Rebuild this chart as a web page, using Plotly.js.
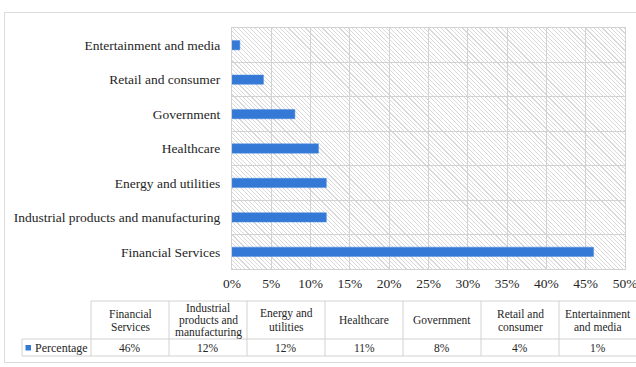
<!DOCTYPE html>
<html>
<head>
<meta charset="utf-8">
<script src="https://cdn.plot.ly/plotly-3.0.1.min.js"></script>
<style>
  html, body { margin:0; padding:0; background:#fff; }
  #wrap { position:relative; width:636px; height:367px; overflow:hidden; background:#fff; }
  #frame { position:absolute; left:4px; top:12px; width:660px; height:351px; border:1px solid #dcdcdc; box-sizing:border-box; }
  #hatch { position:absolute; left:232px; top:28px; width:393px; height:241px;
    background: repeating-linear-gradient(45deg, #d9d9d9 0px, #d9d9d9 0.8px, #ffffff 0.8px, #ffffff 3px); }
  #chart { position:absolute; left:0; top:0; width:636px; height:367px; }
</style>
</head>
<body>
<div id="wrap">
  <div id="frame"></div>
  <div id="hatch"></div>
  <div id="chart"></div>
</div>
<script>
// ---- data ----
const categories = ["Financial Services", "Industrial products and manufacturing", "Energy and utilities", "Healthcare", "Government", "Retail and consumer", "Entertainment and media"];
const tableHeaders = ["Financial<br>Services", "Industrial<br>products and<br>manufacturing", "Energy and<br>utilities", "Healthcare", "Government", "Retail and<br>consumer", "Entertainment<br>and media"];
const percentages = [46, 12, 12, 11, 8, 4, 1];
const seriesName = "Percentage";
const xTickVals = [0, 5, 10, 15, 20, 25, 30, 35, 40, 45, 50];

// ---- layout helpers (pixel -> paper) ----
const W = 636, H = 367;
const M = {l: 232, r: 11, t: 28, b: 98};
const PW = W - M.l - M.r, PH = H - M.t - M.b;
const px = x => (x - M.l) / PW;
const py = y => (H - M.b - y) / PH;

const barColor = "#3479d6";
const lineCol = "#d2d2d2";
const textCol = "#262626";
const font = "'Liberation Serif', 'Times New Roman', serif";

const shapes = [];
const annotations = [];
function hline(y, x0, x1) { shapes.push({type:'line', xref:'paper', yref:'paper', x0:px(x0), x1:px(x1), y0:py(y), y1:py(y), line:{color:lineCol, width:1}}); }
function vline(x, y0, y1) { shapes.push({type:'line', xref:'paper', yref:'paper', x0:px(x), x1:px(x), y0:py(y0), y1:py(y1), line:{color:lineCol, width:1}}); }

const colX0 = 91, colW = 78, rowTop = 301, rowMid = 339, rowBot = 356, labX0 = 22;
const n = categories.length;
hline(rowTop, colX0, colX0 + n * colW);
hline(rowMid, labX0, colX0 + n * colW);
hline(rowBot, labX0, colX0 + n * colW);
vline(labX0, rowMid, rowBot);
for (let i = 0; i <= n; i++) vline(colX0 + i * colW, rowTop, rowBot);

const tf = {family:font, size:11.5, color:textCol};
for (let i = 0; i < n; i++) {
  const cx = colX0 + (i + 0.5) * colW;
  const lines = tableHeaders[i].split('<br>');
  const lineGap = lines.length > 2 ? 12 : 13;
  const yc = (rowTop + rowMid) / 2;
  lines.forEach((t, k) => {
    const yy = yc + (k - (lines.length - 1) / 2) * lineGap;
    annotations.push({xref:'paper', yref:'paper', x:px(cx), y:py(yy), text:t,
      showarrow:false, xanchor:'center', yanchor:'middle', font:tf});
  });
  annotations.push({xref:'paper', yref:'paper', x:px(cx), y:py((rowMid + rowBot) / 2), text:percentages[i] + '%',
    showarrow:false, xanchor:'center', yanchor:'middle', font:tf});
}
// legend key in table
shapes.push({type:'rect', xref:'paper', yref:'paper', x0:px(25.5), x1:px(31), y0:py(345), y1:py(350.5), fillcolor:barColor, line:{width:0}});
annotations.push({xref:'paper', yref:'paper', x:px(33), y:py((rowMid + rowBot) / 2), text:seriesName,
  showarrow:false, xanchor:'left', yanchor:'middle', font:{family:font, size:12, color:textCol}});

const trace = {
  type:'bar', orientation:'h', y:categories, x:percentages, name:seriesName,
  marker:{color:barColor, line:{color:'#4a8ae0', width:0.5}}, width:0.27, hoverinfo:'none'
};

const layout = {
  width:W, height:H, margin:M,
  paper_bgcolor:'rgba(0,0,0,0)', plot_bgcolor:'rgba(0,0,0,0)',
  showlegend:false,
  xaxis:{range:[0, 50], tickvals:xTickVals, ticktext:xTickVals.map(v => v + '%'),
    showgrid:true, gridcolor:lineCol, gridwidth:1, zeroline:false,
    showline:true, mirror:true, linecolor:lineCol, linewidth:1, ticklabeloverflow:'allow',
    ticks:'', ticklabelstandoff:2, tickfont:{family:font, size:13.5, color:textCol}, fixedrange:true},
  yaxis:{type:'category', tickson:'boundaries', showgrid:true, gridcolor:lineCol, gridwidth:1,
    showline:true, mirror:true, linecolor:lineCol, linewidth:1, zeroline:false,
    ticks:'', ticklabelstandoff:8, tickfont:{family:font, size:13.5, color:textCol}, fixedrange:true},
  shapes:shapes, annotations:annotations
};

Plotly.newPlot('chart', [trace], layout, {displayModeBar:false, staticPlot:true});
</script>
</body>
</html>
